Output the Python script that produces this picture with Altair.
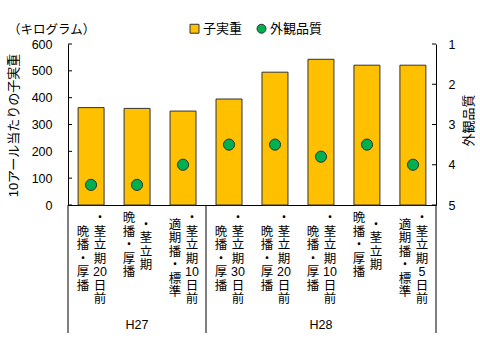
import re
import altair as alt
import pandas as pd

# ---- data ----
years = ["H27", "H27", "H27", "H28", "H28", "H28", "H28", "H28"]
line1 = ["晩播・厚播", "晩播・厚播", "適期播・標準", "晩播・厚播",
         "晩播・厚播", "晩播・厚播", "晩播・厚播", "適期播・標準"]
line2 = ["・茎立期20日前", "・茎立期", "・茎立期10日前", "・茎立期30日前",
         "・茎立期20日前", "・茎立期10日前", "・茎立期", "・茎立期5日前"]
weight = [363, 360, 350, 395, 495, 543, 521, 521]
quality = [4.5, 4.5, 4.0, 3.5, 3.5, 3.8, 3.5, 4.0]
group_names = ["H27", "H28"]
group_bounds = [0, 3, 8]
left_ticks = [0, 100, 200, 300, 400, 500, 600]
right_ticks = [1, 2, 3, 4, 5]
series = ["子実重", "外観品質"]

FONT = "Liberation Sans, Noto Sans CJK JP"
W, H = 368, 161
LH = 13.5

keys = [f"{y}|{a}{b}" for y, a, b in zip(years, line1, line2)]
df = pd.DataFrame({"key": keys, "weight": weight, "quality": quality,
                   "s1": series[0], "s2": series[1]})


def tokens(s):
    return re.findall(r"\d+|.", s)


label_rows = []
for k, a, b in zip(keys, line1, line2):
    ta, tb = tokens(a), tokens(b)
    n = max(len(ta), len(tb))
    label_rows.append({"key": k, "col": 1, "t": ta, "n": n, "len": len(ta)})
    label_rows.append({"key": k, "col": 2, "t": tb, "n": n, "len": len(tb)})

group_df = pd.DataFrame({"b": group_bounds})
group_lbl = pd.DataFrame({"g": group_names,
                          "m": [(group_bounds[i] + group_bounds[i + 1]) / 2 for i in range(len(group_names))]})

xband = alt.Scale(domain=keys, paddingInner=0.435, paddingOuter=0.22)
color_scale = alt.Scale(domain=series, range=["#FFC000", "#00B050"])
yl_scale = alt.Scale(domain=[0, 600], nice=False)
yr_scale = alt.Scale(domain=[1, 5], reverse=True, nice=False)

bars = alt.Chart(df).mark_bar(stroke="#333333", strokeWidth=1).encode(
    x=alt.X("key:N", scale=xband, sort=keys,
            axis=alt.Axis(labels=False, ticks=False, title=None, domainColor="#000000", domainWidth=1)),
    y=alt.Y("weight:Q", scale=yl_scale,
            axis=alt.Axis(values=left_ticks, tickSize=0, labelPadding=16, grid=False,
                          domainColor="#000000", labelColor="#000000", labelFontSize=12.5, labelFont=FONT,
                          title="10アール当たりの子実重", titleFont=FONT, titleFontSize=13,
                          titleFontWeight="normal", titleColor="#000000", titleAngle=270,
                          titleX=-55, titleY=81, titleAlign="center", titleBaseline="middle")),
    color=alt.Color("s1:N", scale=color_scale,
                    legend=alt.Legend(orient="none", direction="horizontal", legendX=120, legendY=-22,
                                      title=None, labelFont=FONT, labelFontSize=13, labelColor="#000000",
                                      symbolSize=80, symbolStrokeColor="#333333", symbolStrokeWidth=1,
                                      columnPadding=12, labelOffset=2)),
)

points = alt.Chart(df).mark_point(filled=True, size=125, stroke="#333333", strokeWidth=1, opacity=1).encode(
    x=alt.X("key:N", scale=xband, sort=keys, axis=None),
    y=alt.Y("quality:Q", scale=yr_scale,
            axis=alt.Axis(orient="right", values=right_ticks, tickSize=0, labelPadding=12, grid=False,
                          domainColor="#000000", labelColor="#000000", labelFontSize=12.5, labelFont=FONT,
                          title="外観品質", titleFont=FONT, titleFontSize=13, titleFontWeight="normal",
                          titleColor="#000000", titleAngle=270, titleX=32, titleY=76,
                          titleAlign="center", titleBaseline="middle")),
    color=alt.Color("s2:N", scale=color_scale),
    shape=alt.Shape("s2:N", scale=alt.Scale(domain=series, range=["square", "circle"])),
)

left_tick_rules = alt.Chart(pd.DataFrame({"v": left_ticks})).mark_rule(color="#000000").encode(
    y=alt.Y("v:Q", scale=yl_scale, axis=None),
    x=alt.value(0), x2=alt.value(4),
)
right_tick_rules = alt.Chart(pd.DataFrame({"v": right_ticks})).mark_rule(color="#000000").encode(
    y=alt.Y("v:Q", scale=yr_scale, axis=None),
    x=alt.value(W - 4), x2=alt.value(W),
)


def label_layer(col, dx):
    return alt.Chart(alt.Data(values=label_rows)).transform_filter(
        alt.datum.col == col
    ).transform_calculate(
        ly=f"168 + (datum.n - datum.len) * {LH} / 2"
    ).mark_text(font=FONT, fontSize=12.5, lineHeight=LH, baseline="top", align="center",
                color="#000000", dx=dx).encode(
        x=alt.X("key:N", scale=xband, sort=keys, axis=None),
        y=alt.Y("ly:Q", scale=None, axis=None),
        text=alt.Text("t:N"),
    )


gscale = alt.Scale(domain=[0, 8], nice=False, zero=False)
sep = alt.Chart(group_df).mark_rule(color="#000000", strokeWidth=1).encode(
    x=alt.X("b:Q", scale=gscale, axis=None),
    y=alt.value(H), y2=alt.value(289),
)
glabels = alt.Chart(group_lbl).mark_text(font=FONT, fontSize=12.5, color="#000000",
                                         baseline="middle", align="center").encode(
    x=alt.X("m:Q", scale=gscale, axis=None),
    y=alt.value(281),
    text="g:N",
)

chart = alt.layer(
    bars, points, left_tick_rules, right_tick_rules,
    label_layer(1, -8), label_layer(2, 9), sep, glabels
).resolve_scale(
    y="independent", x="independent"
).properties(
    width=W, height=H,
    autosize="none",
    padding={"left": 68, "top": 44, "right": 44, "bottom": 146},
    title=alt.TitleParams("（キログラム）", anchor="start", frame="group", dx=-60, offset=12, dy=26,
                          font=FONT, fontSize=12.5, fontWeight="normal", color="#000000"),
).configure_view(stroke=None)

chart.save("out.html", embed_options={"renderer": "svg", "actions": False})
